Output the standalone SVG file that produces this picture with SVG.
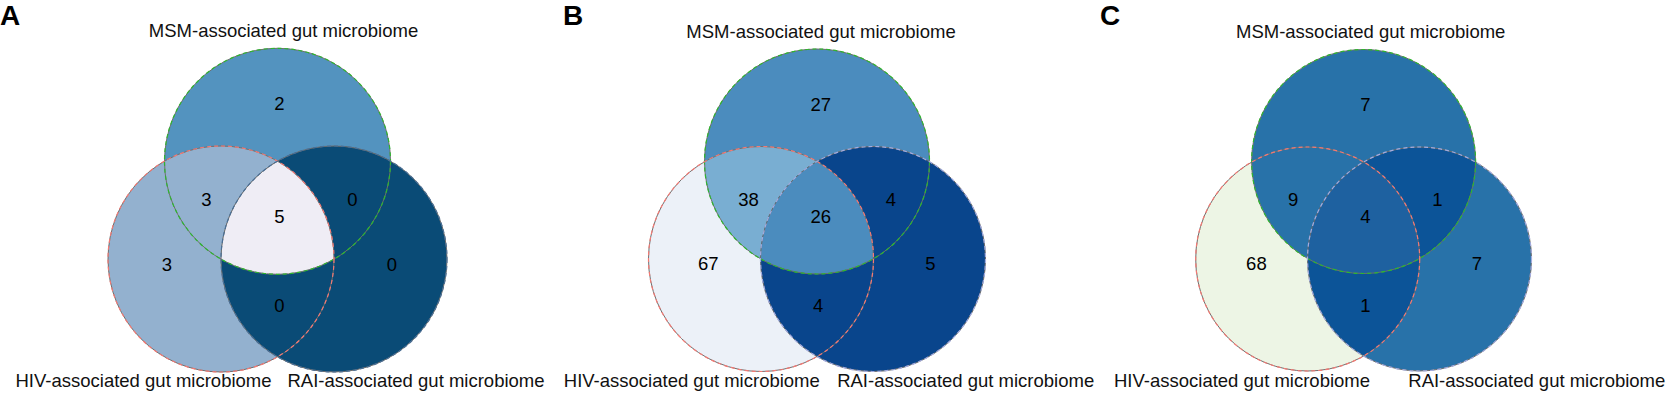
<svg xmlns="http://www.w3.org/2000/svg" width="1671" height="396" viewBox="0 0 1671 396">
<style>
.lbl{font-family:"Liberation Sans",Arial,sans-serif;font-size:18.5px;fill:#111;text-anchor:middle}
.num{font-family:"Liberation Sans",Arial,sans-serif;font-size:18.5px;fill:#000;text-anchor:middle}
.pl{font-family:"Liberation Sans",Arial,sans-serif;font-size:28px;font-weight:bold;fill:#000}
.base{fill:none;stroke:#6e6e6e;stroke-width:1}
.dm{fill:none;stroke:#2fb52f;stroke-width:1.2;stroke-dasharray:4 3}
.dh{fill:none;stroke:#f37a74;stroke-width:1.2;stroke-dasharray:4 3}
.dr{fill:none;stroke:#a3acdf;stroke-width:1.2;stroke-dasharray:4 3}
</style>
<defs>
<clipPath id="aM"><circle cx="277.5" cy="161.3" r="113"/></clipPath>
<clipPath id="aH"><circle cx="221" cy="259" r="113"/></clipPath>
<clipPath id="bM"><circle cx="817" cy="161.5" r="112.5"/></clipPath>
<clipPath id="bH"><circle cx="761" cy="259" r="112.5"/></clipPath>
<clipPath id="cM"><circle cx="1363.6" cy="161.5" r="112"/></clipPath>
<clipPath id="cH"><circle cx="1307.7" cy="259" r="112"/></clipPath>
</defs>
<rect width="1671" height="396" fill="#fff"/>

<g id="panelA">
<text class="pl" x="0" y="25">A</text>
<g id="A-fills">
<circle cx="277.5" cy="161.3" r="113" fill="#5393bf"/>
<circle cx="221" cy="259" r="113" fill="#93b1cf"/>
<circle cx="334" cy="259" r="113" fill="#0a4b76"/>
<circle cx="221" cy="259" r="113" fill="#93b1cf" clip-path="url(#aM)"/>
<circle cx="334" cy="259" r="113" fill="#0a4b76" clip-path="url(#aM)"/>
<circle cx="334" cy="259" r="113" fill="#0a4b76" clip-path="url(#aH)"/>
<g clip-path="url(#aM)"><circle cx="334" cy="259" r="113" fill="#efedf5" clip-path="url(#aH)"/></g>
</g>
<g id="A-MSM"><circle class="base" cx="277.5" cy="161.3" r="113"/><circle class="dm" cx="277.5" cy="161.3" r="113"/><text class="lbl" x="283.5" y="37.3">MSM-associated gut microbiome</text></g>
<g id="A-HIV"><circle class="base" cx="221" cy="259" r="113"/><circle class="dh" cx="221" cy="259" r="113"/><text class="lbl" x="143.5" y="386.5">HIV-associated gut microbiome</text></g>
<g id="A-RAI"><circle class="base" cx="334" cy="259" r="113" stroke="#3d5f80"/><circle class="dr" cx="334" cy="259" r="113" style="stroke:#4a6f95"/><text class="lbl" x="416" y="386.5">RAI-associated gut microbiome</text></g>
<g id="A-counts">
<text class="num" x="279.3" y="110">2</text>
<text class="num" x="206.4" y="206">3</text>
<text class="num" x="279.3" y="222.7">5</text>
<text class="num" x="352.5" y="206">0</text>
<text class="num" x="166.8" y="270.7">3</text>
<text class="num" x="391.8" y="270.7">0</text>
<text class="num" x="279.3" y="311.7">0</text>
</g>
</g>

<g id="panelB">
<text class="pl" x="563" y="25">B</text>
<g id="B-fills">
<circle cx="817" cy="161.5" r="112.5" fill="#4b8cbe"/>
<circle cx="761" cy="259" r="112.5" fill="#ecf1f8"/>
<circle cx="873" cy="259" r="112.5" fill="#09458c"/>
<circle cx="761" cy="259" r="112.5" fill="#79aed2" clip-path="url(#bM)"/>
<circle cx="873" cy="259" r="112.5" fill="#09458c" clip-path="url(#bM)"/>
<circle cx="873" cy="259" r="112.5" fill="#09458c" clip-path="url(#bH)"/>
<g clip-path="url(#bM)"><circle cx="873" cy="259" r="112.5" fill="#4b8cbe" clip-path="url(#bH)"/></g>
</g>
<g id="B-MSM"><circle class="base" cx="817" cy="161.5" r="112.5"/><circle class="dm" cx="817" cy="161.5" r="112.5"/><text class="lbl" x="821" y="38.3">MSM-associated gut microbiome</text></g>
<g id="B-HIV"><circle class="base" cx="761" cy="259" r="112.5"/><circle class="dh" cx="761" cy="259" r="112.5"/><text class="lbl" x="691.8" y="386.5">HIV-associated gut microbiome</text></g>
<g id="B-RAI"><circle class="base" cx="873" cy="259" r="112.5"/><circle class="dr" cx="873" cy="259" r="112.5"/><text class="lbl" x="965.7" y="386.5">RAI-associated gut microbiome</text></g>
<g id="B-counts">
<text class="num" x="820.7" y="111">27</text>
<text class="num" x="748.6" y="206">38</text>
<text class="num" x="820.7" y="222.7">26</text>
<text class="num" x="891" y="206">4</text>
<text class="num" x="708.2" y="270">67</text>
<text class="num" x="930.4" y="270">5</text>
<text class="num" x="818.2" y="311.7">4</text>
</g>
</g>

<g id="panelC">
<text class="pl" x="1100" y="25">C</text>
<g id="C-fills">
<circle cx="1363.6" cy="161.5" r="112" fill="#2872a9"/>
<circle cx="1307.7" cy="259" r="112" fill="#edf5e5"/>
<circle cx="1419.5" cy="259" r="112" fill="#2872a9"/>
<circle cx="1307.7" cy="259" r="112" fill="#2872a9" clip-path="url(#cM)"/>
<circle cx="1419.5" cy="259" r="112" fill="#0c5498" clip-path="url(#cM)"/>
<circle cx="1419.5" cy="259" r="112" fill="#0c5498" clip-path="url(#cH)"/>
<g clip-path="url(#cM)"><circle cx="1419.5" cy="259" r="112" fill="#1e61a0" clip-path="url(#cH)"/></g>
</g>
<g id="C-MSM"><circle class="base" cx="1363.6" cy="161.5" r="112"/><circle class="dm" cx="1363.6" cy="161.5" r="112"/><text class="lbl" x="1370.7" y="38.3">MSM-associated gut microbiome</text></g>
<g id="C-HIV"><circle class="base" cx="1307.7" cy="259" r="112"/><circle class="dh" cx="1307.7" cy="259" r="112"/><text class="lbl" x="1242" y="386.5">HIV-associated gut microbiome</text></g>
<g id="C-RAI"><circle class="base" cx="1419.5" cy="259" r="112"/><circle class="dr" cx="1419.5" cy="259" r="112"/><text class="lbl" x="1536.8" y="386.5">RAI-associated gut microbiome</text></g>
<g id="C-counts">
<text class="num" x="1365.4" y="111">7</text>
<text class="num" x="1293.2" y="206">9</text>
<text class="num" x="1365.4" y="222.7">4</text>
<text class="num" x="1437.5" y="206">1</text>
<text class="num" x="1256.4" y="270">68</text>
<text class="num" x="1476.8" y="270">7</text>
<text class="num" x="1365.4" y="311.7">1</text>
</g>
</g>
</svg>
